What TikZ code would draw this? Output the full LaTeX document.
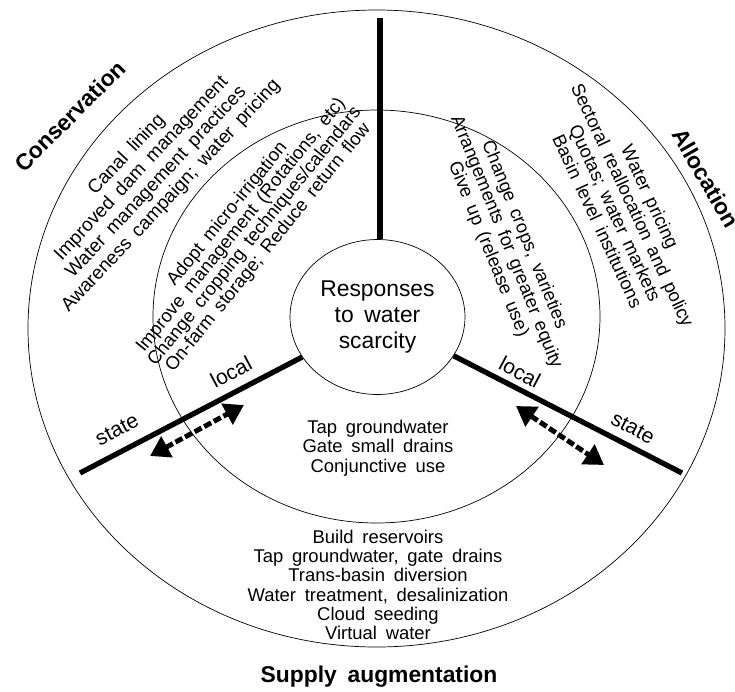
\documentclass[tikz,border=0pt]{standalone}
\usepackage{fontspec}
\setmainfont[WordSpace=1.7]{Liberation Sans}
\usetikzlibrary{arrows.meta,positioning,shapes.geometric}
\tikzset{
  ring/.style={align=center,font=\fontsize{10.5}{11}\selectfont,inner sep=0pt},
  head/.style={font=\fontsize{13}{15}\bfseries\selectfont,inner sep=0pt},
  level/.style={font=\fontsize{12}{14}\selectfont,inner sep=0pt},
  divider/.style={line width=3pt},
  shift arrow/.style={line width=2.8pt,dash pattern=on 4.5pt off 1.7pt,
    {Triangle[length=11pt,width=13pt]}-{Triangle[length=11pt,width=13pt]}},
}

\begin{document}
\begin{tikzpicture}[x=0.02cm,y=-0.02cm]
\useasboundingbox (0,0) rectangle (735,691);
% rings
\draw (376.5,328.5) ellipse [x radius=348.5, y radius=318.5];
\draw (376.5,316.5) ellipse [x radius=223.5, y radius=206.5];
\node[ellipse,draw,minimum width=3.5cm,minimum height=3.1cm,inner sep=0pt,
  font=\fontsize{13}{15}\selectfont,align=center] (resp) at (377.5,317) {Responses\\to water\\scarcity};

% dividers and state/local shifts
\coordinate (topend) at (380,18);
\coordinate (leftend) at (80,473);
\coordinate (rightend) at (682,473);
\draw[divider] (topend |- resp.north) -- (topend);
\draw[divider] (resp.208) -- (leftend);
\draw[divider] (resp.333) -- (rightend);
\coordinate (la1) at (150,456); \coordinate (la2) at (244,405);
\coordinate (ra1) at (516,406); \coordinate (ra2) at (604,465);
\draw[shift arrow] (la1) -- (la2);
\draw[shift arrow] (ra1) -- (ra2);
\node[level,rotate=28] (lstate) at (117,430) {state};
\node[level,rotate=28] (llocal) at (231,372) {local};
\node[level,rotate=-28] (rlocal) at (520,372) {local};
\node[level,rotate=-28] (rstate) at (633,428) {state};

% responses
\node[ring,rotate=47,font=\fontsize{10.8}{11.5}\selectfont] (consout) at (149,175.5) {Canal lining\\Improved dam management\\Water management practices\\Awareness campaign; water pricing};
\node[ring,rotate=51,font=\fontsize{10.5}{10}\selectfont] (consin) at (248,231) {Adopt micro-irrigation\\Improve management (Rotations, etc)\\Change cropping techniques/calendars\\On-farm storage; Reduce return flow};
\node[ring,rotate=-65] (allocout) at (624,209) {Water pricing\\Sectoral reallocation and policy\\Quotas; water markets\\Basin level institutions};
\node[ring,rotate=-68] (allocin) at (506,242) {Change crops, varieties\\Arrangements for greater equity\\Give up (release use)};
\node[ring] (supin) at (378,448) {Tap groundwater\\Gate small drains\\Conjunctive use};
\node[ring] (supout) at (378,585) {Build reservoirs\\Tap groundwater, gate drains\\Trans-basin diversion\\Water treatment, desalinization\\Cloud seeding\\Virtual water};

% headings
\node[head,rotate=45] (cons) at (70,116) {Conservation};
\node[head,rotate=-60] (alloc) at (706,178) {Allocation};
\node[head] (supply) at (379,677) {Supply augmentation};
\end{tikzpicture}
\end{document}
